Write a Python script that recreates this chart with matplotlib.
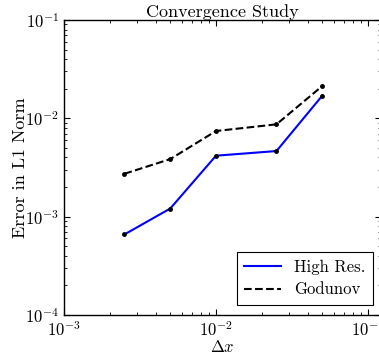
import matplotlib
matplotlib.use("Agg")
import matplotlib.pyplot as plt

plt.rcParams['font.family'] = ['cmr10', 'DejaVu Serif']
plt.rcParams['mathtext.fontset'] = 'cm'
plt.rcParams['axes.formatter.use_mathtext'] = True
plt.rcParams['axes.unicode_minus'] = False

dx = [0.0025, 0.005, 0.01, 0.025, 0.05]
high_res = [6.6e-4, 1.21e-3, 4.17e-3, 4.65e-3, 1.70e-2]
godunov = [2.73e-3, 3.85e-3, 7.43e-3, 8.69e-3, 2.13e-2]

fig = plt.figure(figsize=(3.79, 3.58), dpi=100)
# left spine at x=64, top at y=20, bottom at y=315; right spine just beyond image
ax = fig.add_axes([64/379, (358-315)/358, (381-64)/379, (315-20)/358])

ax.loglog(dx, high_res, color='blue', lw=1.5, label='High Res.')
ax.loglog(dx, high_res, 'o', color='black', ms=2.5, mec='black')
ax.loglog(dx, godunov, '--', color='black', lw=1.5, label='Godunov')
ax.loglog(dx, godunov, 'o', color='black', ms=2.5, mec='black')

ax.set_xlim(1e-3, 10**(-3 + (381-64)/152))
ax.set_ylim(1e-4, 1e-1)

ax.set_title('Convergence Study', fontsize=13, pad=2)
ax.set_xlabel(r'$\Delta x$', fontsize=12, labelpad=0)
ax.set_ylabel('Error in L1 Norm', fontsize=13, labelpad=-2)

ax.tick_params(which='both', direction='in', top=True, right=True, labelsize=12)
ax.tick_params(which='major', length=4, width=0.8)
ax.tick_params(which='minor', length=2, width=0.6)
for s in ax.spines.values():
    s.set_linewidth(1.0)

leg = ax.legend(loc='lower right', fontsize=12, fancybox=False, edgecolor='black',
                framealpha=1, bbox_to_anchor=((373-64)/317, (315-305)/295),
                borderaxespad=0, handlelength=2.2, borderpad=0.45, labelspacing=0.45)
leg.get_frame().set_linewidth(0.8)

fig.savefig('out.png', dpi=100)
